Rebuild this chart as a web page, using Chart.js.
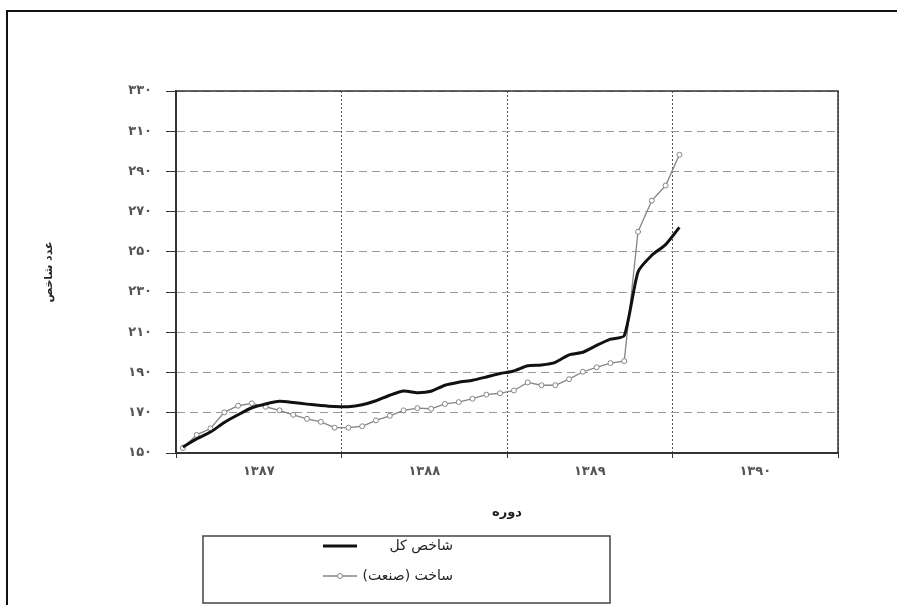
<!DOCTYPE html>
<html>
<head>
<meta charset="utf-8">
<script src="https://cdn.jsdelivr.net/npm/chart.js@4.4.0/dist/chart.umd.min.js"></script>
<style>
    html, body { margin: 0; padding: 0; background: #fff; }
    #wrap { width: 897px; height: 605px; position: relative; }
</style>
</head>
<body>
<div id="wrap"><canvas id="indexChart"></canvas></div>
<script>
// monthly values, 1387/01 .. 1390/01
const generalIndex = [153, 157, 160.4, 165.2, 169, 172.5, 174.4, 175.7, 175.1, 174.3, 173.6, 173.1,
    173, 174, 176, 178.7, 180.8, 180, 180.7, 183.7, 185.2, 186.2, 187.8, 189.5,
    190.8, 193.4, 193.8, 195.1, 198.8, 200.1, 203.5, 206.6, 208.3, 240, 248.3, 253.6,
    262.2];
const buildingIndex = [152.5, 159, 162.2, 170.2, 173.5, 174.7, 173, 171.2, 169, 167, 165.5, 162.6,
    162.6, 163.3, 166.2, 168.5, 171.2, 172.3, 172, 174.4, 175.3, 177, 179, 179.7,
    181.1, 185.1, 183.7, 183.7, 186.7, 190.4, 192.6, 194.7, 195.7, 260, 275.5, 283,
    298.3];
const years = ['۱۳۸۷', '۱۳۸۸', '۱۳۸۹', '۱۳۹۰'];
const seriesNames = ['شاخص کل', 'ساخت (صنعت)'];
const yTitle = 'عدد شاخص';
const xTitle = 'دوره';

const faDigits = ['۰', '۱', '۲', '۳', '۴', '۵', '۶', '۷', '۸', '۹'];
function toFa(n) {
    return String(n).replace(/\d/g, d => faDigits[d]);
}

function monthly(values) {
    // points sit in the middle of each month
    return values.map((v, i) => ({ x: i + 0.5, y: v }));
}

const pageFrame = {
    id: 'pageFrame',
    beforeDraw(chart) {
        const ctx = chart.ctx;
        ctx.save();
        ctx.strokeStyle = '#111';
        ctx.lineWidth = 2;
        ctx.beginPath();
        ctx.moveTo(7, 605);
        ctx.lineTo(7, 11);
        ctx.lineTo(897, 11);
        ctx.stroke();
        ctx.restore();
    },
    afterDatasetsDraw(chart) {
        const { ctx, chartArea } = chart;
        ctx.save();
        ctx.strokeStyle = '#333';
        ctx.lineWidth = 1.5;
        ctx.beginPath();
        ctx.moveTo(chartArea.left, chartArea.top);
        ctx.lineTo(chartArea.right, chartArea.top);
        ctx.lineTo(chartArea.right, chartArea.bottom);
        ctx.stroke();
        ctx.restore();
    }
};

const boxLegend = {
    id: 'boxLegend',
    afterDraw(chart) {
        const ctx = chart.ctx;
        ctx.save();
        ctx.strokeStyle = '#444';
        ctx.lineWidth = 1.5;
        ctx.strokeRect(203, 536, 407, 67);

        chart.data.datasets.forEach((ds, i) => {
            const y = 546 + i * 30;
            ctx.strokeStyle = ds.borderColor;
            ctx.lineWidth = ds.borderWidth;
            ctx.beginPath();
            ctx.moveTo(323, y);
            ctx.lineTo(357, y);
            ctx.stroke();
            if (ds.pointRadius > 0) {
                ctx.fillStyle = '#fff';
                ctx.lineWidth = 1;
                ctx.beginPath();
                ctx.arc(340, y, ds.pointRadius, 0, Math.PI * 2);
                ctx.fill();
                ctx.stroke();
            }
            ctx.fillStyle = '#222';
            ctx.font = '14px "DejaVu Sans"';
            ctx.direction = 'rtl';
            ctx.textAlign = 'right';
            ctx.textBaseline = 'middle';
            ctx.fillText(ds.label, 453, y);
        });
        ctx.restore();
    }
};

function initializeChart() {
    const ctx = document.getElementById('indexChart').getContext('2d');

    new Chart(ctx, {
        type: 'line',
        data: {
            datasets: [
                {
                    label: seriesNames[0],
                    data: monthly(generalIndex),
                    borderColor: '#111',
                    borderWidth: 3,
                    tension: 0.2,
                    pointRadius: 0,
                    fill: false,
                    order: 1
                },
                {
                    label: seriesNames[1],
                    data: monthly(buildingIndex),
                    borderColor: '#858585',
                    borderWidth: 1.3,
                    tension: 0,
                    pointRadius: 2.5,
                    pointBorderWidth: 1,
                    pointBackgroundColor: '#fff',
                    pointBorderColor: '#858585',
                    fill: false,
                    order: 2
                }
            ]
        },
        options: {
            responsive: true,
            maintainAspectRatio: false,
            animation: false,
            layout: {
                padding: { left: 35, right: 59, top: 91, bottom: 82 }
            },
            plugins: {
                legend: { display: false },
                tooltip: { enabled: false }
            },
            scales: {
                x: {
                    type: 'linear',
                    min: 0,
                    max: 48,
                    afterFit(scale) { scale.height = 70; },
                    ticks: {
                        stepSize: 6,
                        autoSkip: false,
                        maxRotation: 0,
                        padding: 6,
                        color: '#555',
                        font: { family: 'DejaVu Sans', size: 13, weight: 'bold' },
                        callback: v => (v % 12 === 6 ? years[(v - 6) / 12] : '')
                    },
                    grid: {
                        color: c => (c.tick && c.tick.value % 12 === 0 ? '#555' : 'rgba(0,0,0,0)'),
                        tickColor: c => (c.tick && c.tick.value % 12 === 0 ? '#333' : 'rgba(0,0,0,0)'),
                        tickLength: 5,
                        lineWidth: 1
                    },
                    border: { display: true, color: '#333', width: 2, dash: [2, 2] },
                    title: {
                        display: true,
                        text: xTitle,
                        color: '#222',
                        font: { family: 'DejaVu Sans', size: 13, weight: 'bold' },
                        padding: { top: 0, bottom: 3 }
                    }
                },
                y: {
                    min: 150,
                    max: 330,
                    afterFit(scale) { scale.width = 141; },
                    ticks: {
                        stepSize: 20,
                        padding: 14,
                        color: '#555',
                        font: { family: 'DejaVu Sans', size: 13, weight: 'bold' },
                        callback: v => toFa(v)
                    },
                    grid: {
                        color: '#9a9a9a',
                        tickColor: '#333',
                        tickLength: 10,
                        lineWidth: 1
                    },
                    border: { display: true, color: '#333', width: 2, dash: [8, 5] },
                    title: {
                        display: true,
                        text: yTitle,
                        color: '#222',
                        font: { family: 'DejaVu Sans', size: 11, weight: 'bold' },
                        padding: { top: 8, bottom: 4 }
                    }
                }
            }
        },
        plugins: [pageFrame, boxLegend]
    });
}

document.addEventListener('DOMContentLoaded', initializeChart);
</script>
</body>
</html>
